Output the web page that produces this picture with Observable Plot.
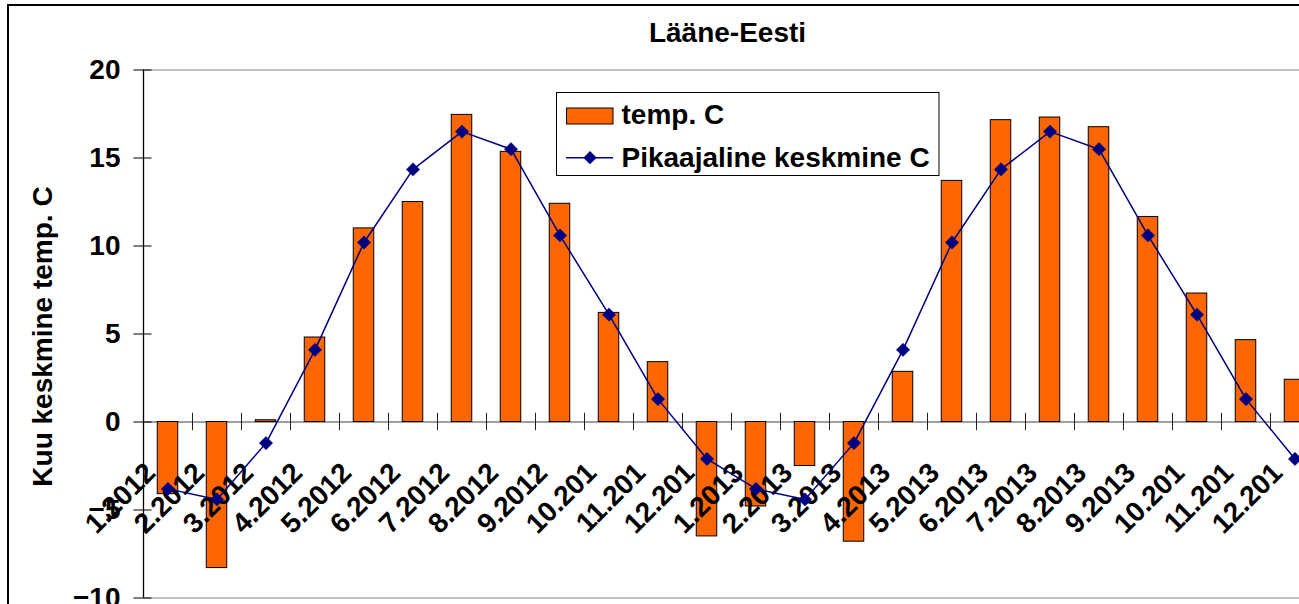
<!DOCTYPE html>
<html>
<head>
<meta charset="utf-8">
<script src="https://cdn.jsdelivr.net/npm/d3@7"></script>
<script src="https://cdn.jsdelivr.net/npm/@observablehq/plot@0.6"></script>
<style>
  html, body { margin: 0; padding: 0; background: #fff; }
  #wrap { position: relative; width: 1299px; height: 604px; overflow: hidden; background: #fff; }
  #border { position: absolute; left: 7px; top: 4px; width: 1400px; height: 700px; border: 2px solid #000; box-sizing: border-box; }
  #chart { position: absolute; left: 0; top: 0; }
  #legend { position: absolute; left: 0; top: 0; }
</style>
</head>
<body>
<div id="wrap">
  <div id="border"></div>
  <div id="chart"></div>
  <svg id="legend" width="1299" height="604"></svg>
</div>
<script>
// ---- data ----
const chartTitle = "Lääne-Eesti";
const yTitle = "Kuu keskmine temp. C";
const seriesNames = ["temp. C", "Pikaajaline keskmine C"];

const months = [
  "2012-01","2012-02","2012-03","2012-04","2012-05","2012-06",
  "2012-07","2012-08","2012-09","2012-10","2012-11","2012-12",
  "2013-01","2013-02","2013-03","2013-04","2013-05","2013-06",
  "2013-07","2013-08","2013-09","2013-10","2013-11","2013-12"
];
const monthLabels = [
  "1.2012","2.2012","3.2012","4.2012","5.2012","6.2012",
  "7.2012","8.2012","9.2012","10.201","11.201","12.201",
  "1.2013","2.2013","3.2013","4.2013","5.2013","6.2013",
  "7.2013","8.2013","9.2013","10.201","11.201","12.201"
];
const temp = [
  -4.1, -8.3, 0.1, 4.8, 11.0, 12.5, 17.45, 15.35, 12.4, 6.2, 3.4, -6.5,
  -4.8, -2.5, -6.8, 2.85, 13.7, 17.15, 17.3, 16.75, 11.65, 7.3, 4.65, 2.4
];
const longTerm = [
  -3.8, -4.4, -1.2, 4.1, 10.2, 14.35, 16.5, 15.5, 10.6, 6.1, 1.3, -2.1,
  -3.8, -4.4, -1.2, 4.1, 10.2, 14.35, 16.5, 15.5, 10.6, 6.1, 1.3, -2.1
];
const yTicks = [-10, -5, 0, 5, 10, 15, 20];

// ---- table ----
const rows = months.map((m, i) => ({m, label: monthLabels[i], temp: temp[i], normal: longTerm[i]}));
const labelOf = new Map(rows.map(r => [r.m, r.label]));

const ORANGE = "#FF6600";
const NAVY = "#000080";
const FONT = "'Liberation Sans', Arial, Helvetica, sans-serif";

const x0 = 142.5, step = 49;
const chart = Plot.plot({
  width: 1299,
  height: 604,
  marginLeft: x0,
  marginRight: 0,
  marginTop: 69.5,
  marginBottom: 6.5,
  style: {fontFamily: FONT, fontSize: "28px", fontWeight: "bold", color: "#000", background: "transparent", overflow: "visible"},
  x: {type: "band", domain: months, range: [x0, x0 + step * months.length], padding: 0, axis: null, label: null},
  y: {domain: [-10, 20], range: [597.5, 69.5], axis: null, label: null},
  marks: [
    Plot.ruleY([-10, 20], {stroke: "#808080", strokeWidth: 1}),
    Plot.ruleY([0], {stroke: "#808080", strokeWidth: 1.3}),
    Plot.ruleX(rows.slice(1), {x: "m", y1: 0, y2: 0, dx: -step / 2, insetTop: -8.7, insetBottom: -8.7, stroke: "#202020", strokeWidth: 1}),
    Plot.ruleX(rows.slice(0, 1), {x: "m", dx: -step / 2, stroke: "#000", strokeWidth: 1.3}),
    Plot.axisY(yTicks, {anchor: "left", label: null, tickSize: 18, dx: 9, tickPadding: 13.5, fontSize: 28, fontWeight: "bold", stroke: "#000"}),
    Plot.text([yTitle], {frameAnchor: "top-left", dx: 51.5 - x0, dy: 336 - 69.5, rotate: -90, textAnchor: "middle", lineAnchor: "bottom", fontSize: 28, fontWeight: "bold", fill: "#000"}),
    Plot.text([chartTitle], {frameAnchor: "top-left", dx: 727 - x0, dy: 41 - 69.5, textAnchor: "middle", lineAnchor: "bottom", fontSize: 28, fontWeight: "bold", fill: "#000"}),
    Plot.barY(rows, {x: "m", y: "temp", fill: ORANGE, stroke: "#000", strokeWidth: 1, insetLeft: 14.25, insetRight: 14.25}),
    Plot.axisX(months, {anchor: "bottom", label: null, tickSize: 0, tickPadding: 0, tickRotate: -45, textAnchor: "end", lineAnchor: "bottom", dx: -11, dy: 474 - 597.5, fontSize: 28, fontWeight: "bold", fill: "#000", tickFormat: d => labelOf.get(d)}),
    Plot.line(rows, {x: "m", y: "normal", stroke: NAVY, strokeWidth: 1.5}),
    Plot.dot(rows, {x: "m", y: "normal", symbol: "diamond2", r: 6, fill: NAVY, stroke: NAVY, strokeWidth: 0.5})
  ]
});
document.getElementById("chart").appendChild(chart);

// ---- legend (overlay) ----
const lg = d3.select("#legend");
lg.append("rect").attr("x", 556.5).attr("y", 92.5).attr("width", 382.5).attr("height", 83)
  .attr("fill", "#fff").attr("stroke", "#000").attr("stroke-width", 1);
lg.append("rect").attr("x", 566.5).attr("y", 108).attr("width", 46.5).attr("height", 16)
  .attr("fill", ORANGE).attr("stroke", "#000").attr("stroke-width", 1);
lg.append("line").attr("x1", 566).attr("x2", 613).attr("y1", 157.7).attr("y2", 157.7)
  .attr("stroke", NAVY).attr("stroke-width", 1.5);
lg.append("path").attr("d", d3.symbol(d3.symbolDiamond2, 6 * 6 * Math.PI)())
  .attr("transform", "translate(590,157.7)").attr("fill", NAVY);
lg.selectAll("text.lab").data(seriesNames).join("text")
  .attr("class", "lab")
  .attr("x", 621.5)
  .attr("y", (d, i) => i === 0 ? 124.3 : 166.7)
  .attr("font-family", FONT).attr("font-size", 28).attr("font-weight", "bold").attr("fill", "#000")
  .text(d => d);
</script>
</body>
</html>
